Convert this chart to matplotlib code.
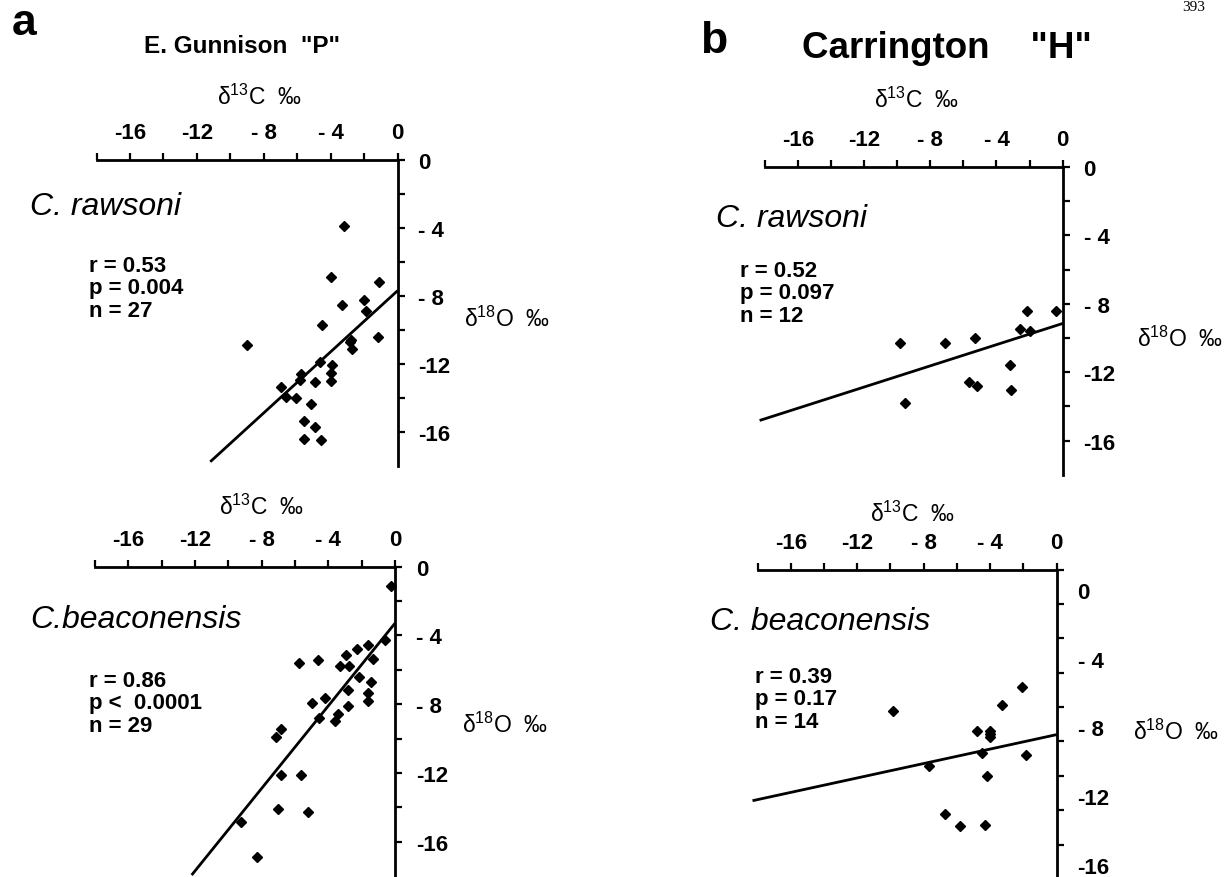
import numpy as np
import matplotlib
matplotlib.use("Agg")
import matplotlib.pyplot as plt
from matplotlib.transforms import ScaledTranslation

plt.rcParams['font.family'] = ['Liberation Sans', 'DejaVu Sans']
plt.rcParams['mathtext.default'] = 'regular'

# ---- data (delta13C = x, delta18O = y) ----
# a: E. Gunnison "P", C. rawsoni
gun_raw_c = [-3.2, -4.0, -1.1, -2.0, -3.3, -1.9, -4.5, -1.15, -9.0, -2.8, -2.7, -3.9, -4.65, -4.0,
             -4.0, -5.8, -5.85, -4.95, -6.95, -6.65, -6.1, -5.15, -5.6, -4.95, -5.6, -4.6, -2.85]
gun_raw_o = [-3.9, -6.9, -7.2, -8.25, -8.55, -8.9, -9.7, -10.4, -10.9, -10.6, -11.15, -12.1, -11.9, -12.55,
             -13.0, -12.6, -12.95, -13.1, -13.35, -13.95, -14.0, -14.35, -15.35, -15.75, -16.45, -16.5, -10.75]
gun_raw_fit = [-7.7, 0.90, -11.2]        # intercept, slope, line start

# a: E. Gunnison "P", C. beaconensis
gun_bea_c = [-0.25, -0.6, -1.65, -2.3, -2.95, -1.3, -5.75, -4.65, -3.3, -2.75, -2.15, -1.45, -2.85, -1.6,
             -1.65, -4.2, -5.0, -2.85, -4.55, -3.45, -3.6, -6.85, -7.15, -6.85, -5.65, -7.05, -5.2, -9.25, -8.3]
gun_bea_o = [-1.15, -4.25, -4.55, -4.8, -5.15, -5.4, -5.6, -5.45, -5.8, -5.8, -6.4, -6.7, -7.2, -7.35,
             -7.8, -7.65, -7.95, -8.1, -8.8, -8.55, -9.0, -9.45, -9.9, -12.1, -12.15, -14.1, -14.3, -14.85, -16.9]
gun_bea_fit = [-3.3, 1.2, -12.2]

# b: Carrington "H", C. rawsoni
car_raw_c = [-2.15, -0.4, -2.6, -1.95, -9.85, -7.1, -5.3, -3.2, -5.65, -5.15, -3.15, -9.55]
car_raw_o = [-8.4, -8.4, -9.5, -9.6, -10.3, -10.3, -10.0, -11.55, -12.55, -12.8, -13.05, -13.8]
car_raw_fit = [-9.15, 0.31, -18.3]

# b: Carrington "H", C. beaconensis
car_bea_c = [-2.1, -3.3, -9.85, -4.8, -4.0, -4.0, -4.5, -1.85, -7.7, -4.2, -6.7, -5.8, -4.3, -4.0]
car_bea_o = [-4.85, -5.9, -6.2, -7.4, -7.4, -7.75, -8.65, -8.8, -9.45, -10.0, -12.2, -12.9, -12.85, -7.55]
car_bea_fit = [-7.6, 0.21, -18.3]

x_tick_vals = [-16, -12, -8, -4, 0]
x_tick_text = ['-16', '-12', '- 8', '- 4', '0']
y_tick_vals = [0, -4, -8, -12, -16]
y_tick_text = ['0', '- 4', '- 8', '-12', '-16']

W, H = 1228, 878
fig = plt.figure(figsize=(W / 100, H / 100), dpi=100)


def fx(x):
    return x / W


def fy(y):
    return 1 - y / H


def add_panel(left, right, top, bottom, ylim, cvals, ovals, fit, label_shift=0):
    ax = fig.add_axes([fx(left), fy(bottom), (right - left) / W, (bottom - top) / H])
    ax.set_xlim(-18, 0)
    ax.set_ylim(*ylim)
    ax.patch.set_visible(False)
    for s in ['bottom', 'left']:
        ax.spines[s].set_visible(False)
    for s in ['top', 'right']:
        ax.spines[s].set_linewidth(2.0)
    ax.set_xticks(x_tick_vals, x_tick_text)
    ax.set_xticks(np.arange(-18, 0.5, 2), minor=True)
    ax.set_yticks(y_tick_vals, y_tick_text)
    ax.set_yticks(np.arange(ylim[0] // 2 * 2 + 2, ylim[1] + 0.5, 2), minor=True)
    ax.tick_params(which='both', direction='out', length=5, width=1.6,
                   top=True, bottom=False, labeltop=True, labelbottom=False,
                   left=False, right=True, labelleft=False, labelright=True)
    ax.tick_params(axis='x', which='major', pad=7, labelsize=16)
    ax.tick_params(axis='y', which='major', pad=10, labelsize=16)
    for lab in ax.get_xticklabels() + ax.get_yticklabels():
        lab.set_fontweight('bold')
    if label_shift:
        # the scanned figure prints these labels a little above their ticks
        off = ScaledTranslation(0, label_shift / 100, fig.dpi_scale_trans)
        for t in ax.yaxis.get_major_ticks():
            t.label2.set_transform(t.label2.get_transform() + off)
    ax.plot(cvals, ovals, 'D', color='black', ms=5.5, clip_on=False)
    xs = np.array([fit[2], 0.0])
    ax.plot(xs, fit[0] + fit[1] * xs, color='black', lw=2.0, clip_on=False,
            solid_capstyle='butt')
    return ax


add_panel(96.5, 397.6, 161, 466.5, (-18, 0), gun_raw_c, gun_raw_o, gun_raw_fit)
add_panel(95, 395, 567.5, 877.1, (-18, 0), gun_bea_c, gun_bea_o, gun_bea_fit)
add_panel(764.6, 1062.7, 168, 475.8, (-18, 0), car_raw_c, car_raw_o, car_raw_fit)
add_panel(757.5, 1056.7, 570.5, 890.4, (-16.6, 2), car_bea_c, car_bea_o, car_bea_fit,
          label_shift=14)


def txt(x, y, s, **kw):
    fig.text(fx(x), fy(y), s, va='baseline', **kw)


txt(12, 35, 'a', fontsize=32, fontweight='bold')
txt(700, 53, 'b', fontsize=32, fontweight='bold')
txt(144, 53, 'E. Gunnison  "P"', fontsize=17.5, fontweight='bold')
txt(802, 58, 'Carrington    "H"', fontsize=26.5, fontweight='bold')

c_label = 'δ$^{13}$C  ‰'
o_label = 'δ$^{18}$O  ‰'
for xc, yb in [(259.5, 105), (261.5, 515), (916, 108), (912.5, 522)]:
    txt(xc, yb, c_label, fontsize=16.5, ha='center')
for xl, yb in [(464, 327), (462, 733), (1137, 347), (1133, 740)]:
    txt(xl, yb, o_label, fontsize=16.5, ha='left')

txt(30, 215, 'C. rawsoni', fontsize=23, style='italic')
txt(30, 628, 'C.beaconensis', fontsize=23, style='italic')
txt(716, 227, 'C. rawsoni', fontsize=23, style='italic')
txt(710, 630, 'C. beaconensis', fontsize=23, style='italic')

stats = [
    (89, [272, 294.5, 317], ['r = 0.53', 'p = 0.004', 'n = 27']),
    (89, [687, 709.5, 732], ['r = 0.86', 'p <  0.0001', 'n = 29']),
    (740, [277, 299.5, 322], ['r = 0.52', 'p = 0.097', 'n = 12']),
    (755, [683, 705.5, 728], ['r = 0.39', 'p = 0.17', 'n = 14']),
]
for xl, ys, lines in stats:
    for yb, line in zip(ys, lines):
        txt(xl, yb, line, fontsize=16, fontweight='bold')

fig.text(fx(1182), fy(1), '393', fontsize=11, family='Liberation Serif', va='top')

fig.savefig('out.png', dpi=100)
